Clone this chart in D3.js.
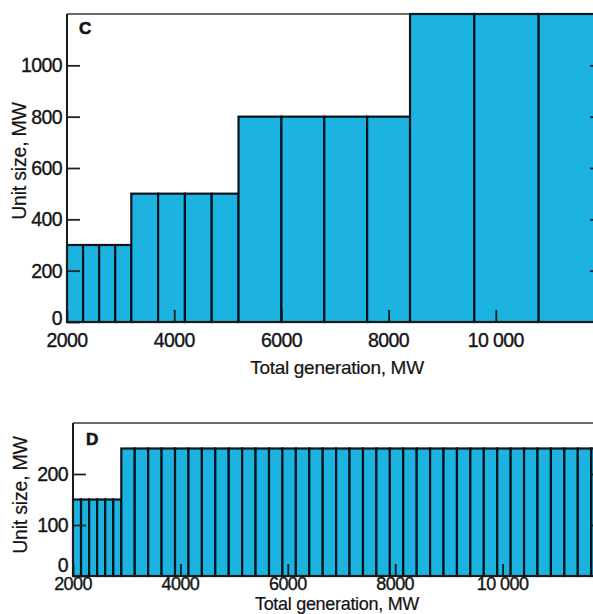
<!DOCTYPE html>
<html>
<head>
<meta charset="utf-8">
<script src="https://cdn.jsdelivr.net/npm/d3@7"></script>
<style>
  html, body { margin: 0; padding: 0; background: #fff; }
  svg { display: block; }
  text { font-family: "Liberation Sans", Arial, sans-serif; fill: #141414; }
</style>
</head>
<body>
<svg id="chart" width="593" height="614"></svg>
<script>
// ---------------- DATA ----------------
// Panel C: unit sizes (MW) of successive units, starting at 2000 MW total generation
const unitsC = [300, 300, 300, 300, 500, 500, 500, 500, 800, 800, 800, 800, 1200, 1200, 1200];
// Panel D: unit sizes (MW)
const unitsD = [150, 150, 150, 150, 150, 150,
  250, 250, 250, 250, 250, 250, 250, 250, 250, 250,
  250, 250, 250, 250, 250, 250, 250, 250, 250, 250,
  250, 250, 250, 250, 250, 250, 250, 250, 250, 250,
  250, 250, 250, 250, 250, 250, 250];
const startGeneration = 2000;
const xTicks = [2000, 4000, 6000, 8000, 10000];
const xTickLabels = ["2000", "4000", "6000", "8000", "10 000"];
const yTicksC = [0, 200, 400, 600, 800, 1000];
const yTicksD = [0, 100, 200];
const panelLabels = ["C", "D"];
const xTitle = "Total generation,  MW";
const xTitleD = "Total generation, MW";
const yTitle = "Unit size,  MW";
const yTitleD = "Unit size, MW";

// ---------------- DRAW ----------------
const svg = d3.select("#chart");
const barFill = "#1db3e1";
const edge = "#0b131c";

function cumulative(units) {
  let acc = startGeneration;
  return units.map(u => { const d = { x0: acc, x1: acc + u, v: u }; acc += u; return d; });
}

function styleText(sel, size, ls) {
  sel.attr("font-size", size)
    .attr("letter-spacing", ls)
    .attr("stroke", "#141414")
    .attr("stroke-width", 0.35);
}

function panel(opts) {
  const { units, xRange, yRange, yDomain, yTicks, label, labelPos, xLabelY, zeroDy, tickFont, titleFont, titleY, title, yTitleText, yTitleX, yTitleY, rightTick } = opts;
  const x = d3.scaleLinear().domain([2000, 12000]).range(xRange);
  const y = d3.scaleLinear().domain(yDomain).range(yRange);
  const g = svg.append("g");
  const bars = cumulative(units);

  // top frame line
  g.append("line")
    .attr("x1", xRange[0]).attr("x2", 593)
    .attr("y1", y(yDomain[1])).attr("y2", y(yDomain[1]))
    .attr("stroke", "#3a3a30").attr("stroke-width", 1.6);

  // bars
  g.selectAll("rect.bar").data(bars).join("rect")
    .attr("class", "bar")
    .attr("x", d => x(d.x0))
    .attr("width", d => x(d.x1) - x(d.x0))
    .attr("y", d => y(Math.min(d.v, yDomain[1])))
    .attr("height", d => y(0) - y(Math.min(d.v, yDomain[1])))
    .attr("fill", barFill)
    .attr("stroke", edge)
    .attr("stroke-width", 2.2);

  // left axis (ticks inward)
  const yAxis = d3.axisRight(y).tickValues(yTicks).tickSize(13).tickFormat("");
  const ya = g.append("g").attr("transform", `translate(${xRange[0]},0)`).call(yAxis);
  ya.select(".domain").remove();
  ya.selectAll(".tick line").attr("stroke", "#222").attr("stroke-width", 1.8);
  g.append("line").attr("x1", xRange[0]).attr("x2", xRange[0])
    .attr("y1", y(yDomain[1])).attr("y2", y(0) + 1)
    .attr("stroke", "#1a1a1a").attr("stroke-width", 2);

  // right axis ticks (inward, frame just outside view)
  const yAxisR = d3.axisLeft(y).tickValues(yTicks.filter(t => t > 0)).tickSize(rightTick).tickFormat("");
  const yr = g.append("g").attr("transform", `translate(${xRange[1]},0)`).call(yAxisR);
  yr.select(".domain").remove();
  yr.selectAll(".tick line").attr("stroke", "#222").attr("stroke-width", 1.8);

  // y tick labels
  g.selectAll("text.ylab").data(yTicks).join("text")
    .attr("class", "ylab")
    .attr("x", xRange[0] - 5)
    .attr("y", d => y(d) + (d === 0 ? zeroDy : 0))
    .attr("text-anchor", "end")
    .attr("dominant-baseline", "central")
    .call(styleText, 19.5, -0.6)
    .text(d => d);

  // bottom axis (ticks inward)
  const xAxis = d3.axisTop(x).tickValues(xTicks).tickSize(12).tickFormat("");
  const xa = g.append("g").attr("transform", `translate(0,${y(0)})`).call(xAxis);
  xa.select(".domain").remove();
  xa.selectAll(".tick line").attr("stroke", "#1a1a1a").attr("stroke-width", 1.8);
  g.append("line").attr("x1", xRange[0] - 1).attr("x2", 593)
    .attr("y1", y(0)).attr("y2", y(0))
    .attr("stroke", "#1a1a1a").attr("stroke-width", 2);

  // x tick labels
  g.selectAll("text.xlab").data(xTicks).join("text")
    .attr("class", "xlab")
    .attr("x", d => x(d))
    .attr("y", xLabelY)
    .attr("text-anchor", "middle")
    .call(styleText, tickFont, -0.6)
    .text((d, i) => xTickLabels[i]);

  // x title
  g.append("text")
    .attr("x", 337).attr("y", titleY)
    .attr("text-anchor", "middle")
    .call(styleText, titleFont, -0.3)
    .attr("stroke-width", 0.2)
    .text(title);

  // y title
  g.append("text")
    .attr("transform", `translate(${yTitleX},${yTitleY}) rotate(-90)`)
    .attr("text-anchor", "middle")
    .call(styleText, 19.5, -0.2)
    .attr("stroke-width", 0.2)
    .text(yTitleText);

  // panel label
  g.append("text")
    .attr("x", labelPos[0]).attr("y", labelPos[1])
    .attr("font-size", 17)
    .attr("font-weight", "bold")
    .attr("stroke", "#141414").attr("stroke-width", 0.6)
    .text(label);
}

panel({
  units: unitsC, xRange: [67, 603], yRange: [322, 14], yDomain: [0, 1200],
  yTicks: yTicksC, label: panelLabels[0], labelPos: [79, 34],
  xLabelY: 347, zeroDy: -4, tickFont: 19.5, titleFont: 19, titleY: 374, title: xTitle,
  yTitleText: yTitle, yTitleX: 26, yTitleY: 161, rightTick: 13
});

panel({
  units: unitsD, xRange: [73, 610], yRange: [576, 423], yDomain: [0, 300],
  yTicks: yTicksD, label: panelLabels[1], labelPos: [86, 445],
  xLabelY: 590, zeroDy: -11, tickFont: 18, titleFont: 18, titleY: 610, title: xTitleD,
  yTitleText: yTitleD, yTitleX: 27, yTitleY: 495, rightTick: 20
});
</script>
</body>
</html>
